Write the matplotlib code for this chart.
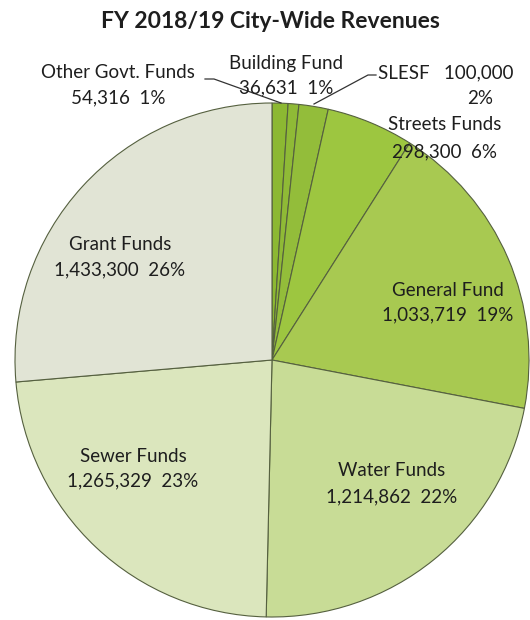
import matplotlib.pyplot as plt

plt.rcParams['font.family'] = ['Lato', 'DejaVu Sans']

# FY 2018/19 revenue by fund, clockwise from 12 o'clock
funds = ['Other Govt. Funds', 'Building Fund', 'SLESF', 'Streets Funds',
         'General Fund', 'Water Funds', 'Sewer Funds', 'Grant Funds']
amounts = [54316, 36631, 100000, 298300, 1033719, 1214862, 1265329, 1433300]
pct_labels = ['1%', '1%', '2%', '6%', '19%', '22%', '23%', '26%']
colors = ['#8cb832', '#8fba36', '#93bd3a', '#9dc640', '#a8c951',
          '#c8dc96', '#dbe6bd', '#e1e4d5']

W, H = 530, 620
fig = plt.figure(figsize=(W / 100, H / 100), dpi=100)
ax = fig.add_axes([0, 0, 1, 1])

cx, cy, r = 272, H - 360, 257
wedges, _ = ax.pie(amounts, colors=colors, startangle=90, counterclock=False,
                   center=(cx, cy), radius=r,
                   wedgeprops=dict(edgecolor='#55603f', linewidth=0.8))
ax.set_xlim(0, W)
ax.set_ylim(0, H)
ax.set_aspect('equal')
ax.axis('off')


def py(y):
    # pixel row (from top) to data y
    return H - y


txt = dict(fontsize=13.5, color='#1e1e1e', ha='center', va='center')

# labels inside the large slices
inner = {
    3: (445, 125, 152),
    4: (448, 290, 315),
    5: (392, 471, 497),
    6: (133, 456, 481),
    7: (120, 244, 270),
}
for i, (x, y1, y2) in inner.items():
    ax.text(x, py(y1), funds[i], **txt)
    ax.text(x, py(y2), f'{amounts[i]:,}  {pct_labels[i]}', **txt)

# small slices labelled outside
ax.text(118, py(73), funds[0], **txt)
ax.text(118, py(98), f'{amounts[0]:,}  {pct_labels[0]}', **txt)
ax.plot([205, 214, 281], [py(79), py(79), py(103)], color='#333333', lw=0.9)

ax.text(286, py(63), funds[1], **txt)
ax.text(286, py(88), f'{amounts[1]:,}  {pct_labels[1]}', **txt)

ax.text(378, py(73), f'{funds[2]}   {amounts[2]:,}', fontsize=13.5,
        color='#1e1e1e', ha='left', va='center')
ax.text(480, py(98), pct_labels[2], **txt)
ax.plot([376, 368, 314], [py(75), py(75), py(104)], color='#333333', lw=0.9)

ax.text(W / 2 + 5, py(21), 'FY 2018/19 City-Wide Revenues', fontsize=16.5,
        fontweight='bold', color='#1e1e1e', ha='center', va='center')

fig.savefig('out.png', dpi=100, facecolor='white')
